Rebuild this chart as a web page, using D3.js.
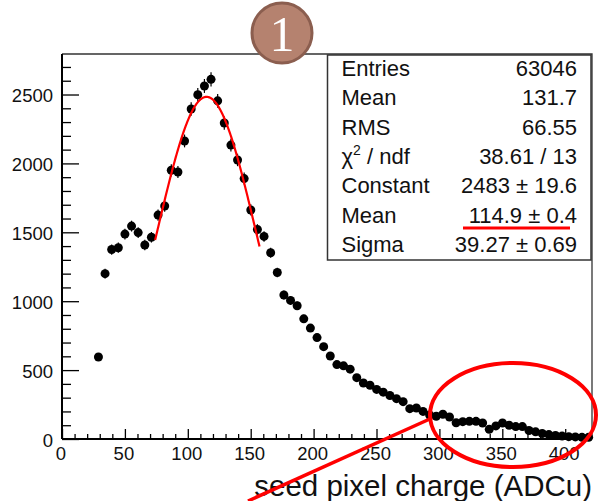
<!DOCTYPE html>
<html>
<head>
<meta charset="utf-8">
<script src="https://cdn.jsdelivr.net/npm/d3@7"></script>
<style>
  body { margin: 0; background: #fff; }
  svg { display: block; font-family: "Liberation Sans", Arial, sans-serif; }
</style>
</head>
<body>
<div id="chart"></div>
<script>
// bin centres (ADCu) and counts
const binCenters = [28.96, 34.23, 39.49, 44.76, 50.02, 55.29, 60.55, 65.82, 71.08, 76.35,
  81.62, 86.88, 92.15, 97.41, 102.68, 107.94, 113.21, 118.47, 123.74, 129.00,
  134.27, 139.54, 144.80, 150.07, 155.33, 160.60, 165.86, 171.13, 176.39, 181.66,
  186.92, 192.19, 197.45, 202.72, 207.99, 213.25, 218.52, 223.78, 229.05, 234.31,
  239.58, 244.84, 250.11, 255.37, 260.64, 265.90, 271.17, 276.44, 281.70, 286.97,
  292.23, 297.50, 302.76, 308.03, 313.29, 318.56, 323.82, 329.09, 334.35, 339.62,
  344.89, 350.15, 355.42, 360.68, 365.95, 371.21, 376.48, 381.74, 387.01, 392.27,
  397.54, 402.80, 408.07, 413.34, 418.60];
const counts = [595, 1200, 1375, 1388, 1487, 1545, 1498, 1408, 1464, 1625,
  1691, 1950, 1938, 2163, 2395, 2498, 2562, 2610, 2454, 2293,
  2133, 2025, 1890, 1662, 1520, 1470, 1352, 1208, 1045, 1006,
  967, 872, 805, 736, 670, 602, 540, 531, 507, 445,
  406, 390, 360, 340, 316, 293, 271, 220, 225, 200,
  174, 165, 180, 160, 118, 126, 128, 128, 116, 70,
  95, 116, 100, 90, 90, 62, 52, 40, 32, 26,
  21, 17, 15, 12, 12];
const binWidth = 5.266;

// gaussian fit shown in the stats box
const fitParams = { constant: 2483, mean: 114.9, sigma: 39.27 };
const fitRange = [74, 157];

const statLabels = ["Entries", "Mean", "RMS", "chi2", "Constant", "Mean", "Sigma"];
const statValues = ["63046", "131.7", "66.55", "38.61 / 13", "2483 \u00b1 19.6", "114.9 \u00b1 0.4", "39.27 \u00b1 0.69"];

const xTicks = [0, 50, 100, 150, 200, 250, 300, 350, 400];
const yTicks = [0, 500, 1000, 1500, 2000, 2500];

const width = 600;
const height = 501;
const frame = { left: 62, right: 592, top: 54, bottom: 439 };

const x = d3.scaleLinear().domain([0, 421.3]).range([frame.left, frame.right]);
const y = d3.scaleLinear().domain([0, 2794]).range([frame.bottom, frame.top]);

const svg = d3.select("#chart").append("svg")
  .attr("width", width)
  .attr("height", height);

// frame top / right
svg.append("path")
  .attr("d", `M${frame.left},${frame.top}H${frame.right}V${frame.bottom}`)
  .attr("fill", "none")
  .attr("stroke", "#333")
  .attr("stroke-width", 1.3);

// x axis, ticks pointing up into the frame
const xMinor = d3.range(0, 421, 10).filter(d => d % 50 !== 0);
svg.append("g")
  .attr("transform", `translate(0,${frame.bottom})`)
  .call(d3.axisBottom(x).tickValues(xMinor).tickSizeInner(-5).tickSizeOuter(0).tickFormat(""))
  .call(g => g.select(".domain").remove());
const xAxis = svg.append("g")
  .attr("transform", `translate(0,${frame.bottom})`)
  .call(d3.axisBottom(x).tickValues(xTicks).tickSizeInner(-10).tickSizeOuter(0).tickPadding(8)
    .tickFormat(d3.format("d")));
xAxis.select(".domain").attr("stroke-width", 2).attr("d", `M${frame.left},0H${frame.right}`);
xAxis.selectAll("text").attr("font-size", 18.5).attr("fill", "#111").attr("dx", -1.5)
  .attr("font-family", "Liberation Sans, Arial, sans-serif");

// y axis, ticks pointing right
const yMinor = d3.range(0, 2794, 100).filter(d => d % 500 !== 0);
svg.append("g")
  .attr("transform", `translate(${frame.left},0)`)
  .call(d3.axisLeft(y).tickValues(yMinor).tickSizeInner(-9).tickSizeOuter(0).tickFormat(""))
  .call(g => g.select(".domain").remove());
const yAxis = svg.append("g")
  .attr("transform", `translate(${frame.left},0)`)
  .call(d3.axisLeft(y).tickValues(yTicks).tickSizeInner(-17).tickSizeOuter(0).tickPadding(9)
    .tickFormat(d3.format("d")));
yAxis.select(".domain").attr("stroke-width", 2).attr("d", `M0,${frame.top}V${frame.bottom}`);
yAxis.selectAll("text").attr("font-size", 18.5).attr("fill", "#111").attr("dy", "0.4em")
  .attr("font-family", "Liberation Sans, Arial, sans-serif");
svg.selectAll(".tick line").attr("stroke-width", 1.3);

// histogram points with error bars
const pts = svg.append("g");
binCenters.forEach((c, i) => {
  const n = counts[i];
  const e = Math.sqrt(n);
  pts.append("line")
    .attr("x1", x(c)).attr("x2", x(c))
    .attr("y1", y(n - e)).attr("y2", y(Math.min(n + e, 2794)))
    .attr("stroke", "#000").attr("stroke-width", 1.2);
  pts.append("line")
    .attr("x1", x(c - binWidth / 2)).attr("x2", x(c + binWidth / 2))
    .attr("y1", y(n)).attr("y2", y(n))
    .attr("stroke", "#000").attr("stroke-width", 1.2);
  pts.append("circle")
    .attr("cx", x(c)).attr("cy", y(n)).attr("r", 4.5)
    .attr("fill", "#000");
});

// fit curve
const gaus = v => fitParams.constant * Math.exp(-0.5 * Math.pow((v - fitParams.mean) / fitParams.sigma, 2));
const fitLine = d3.line()
  .x(d => x(d))
  .y(d => y(gaus(d)));
svg.append("path")
  .attr("d", fitLine(d3.range(fitRange[0], fitRange[1] + 0.01, 0.5)))
  .attr("fill", "none")
  .attr("stroke", "#f00")
  .attr("stroke-width", 2.2);

// stats box
const box = svg.append("g");
box.append("rect")
  .attr("x", 327.5).attr("y", 55).attr("width", 263.5).attr("height", 205)
  .attr("fill", "#fff").attr("stroke", "#333").attr("stroke-width", 1.5);
statLabels.forEach((lab, i) => {
  const by = 76 + i * 29.3;
  const t = box.append("text")
    .attr("x", 341.5).attr("y", by)
    .attr("font-size", 22).attr("fill", "#111");
  if (lab === "chi2") {
    t.append("tspan").text("\u03c7");
    t.append("tspan").text("2").attr("font-size", 14).attr("dy", -9);
    t.append("tspan").text(" / ndf").attr("dy", 9);
  } else {
    t.text(lab);
  }
  box.append("text")
    .attr("x", 577).attr("y", by)
    .attr("text-anchor", "end")
    .attr("font-size", 22).attr("fill", "#111")
    .text(statValues[i]);
});
// red underline under the fitted mean
box.append("line")
  .attr("x1", 463).attr("x2", 570).attr("y1", 228).attr("y2", 228)
  .attr("stroke", "#f00").attr("stroke-width", 3);

// x title
svg.append("text")
  .attr("x", 592).attr("y", 496)
  .attr("text-anchor", "end")
  .attr("font-size", 29.5).attr("fill", "#111")
  .text("seed pixel charge (ADCu)");

// annotation: ellipse + pointer line
svg.append("line")
  .attr("x1", 248).attr("y1", 501).attr("x2", 432).attr("y2", 418)
  .attr("stroke", "#f00").attr("stroke-width", 3.5);
svg.append("ellipse")
  .attr("cx", 513).attr("cy", 415).attr("rx", 83).attr("ry", 52)
  .attr("fill", "none").attr("stroke", "#f00").attr("stroke-width", 4);

// numbered badge
svg.append("circle")
  .attr("cx", 282).attr("cy", 33).attr("r", 30)
  .attr("fill", "#b5826f").attr("stroke", "#8b5e4f").attr("stroke-width", 3);
svg.append("text")
  .attr("x", 282).attr("y", 51)
  .attr("text-anchor", "middle")
  .attr("font-family", "Liberation Serif, DejaVu Serif, serif")
  .attr("font-size", 50).attr("fill", "#fff")
  .text("1");
</script>
</body>
</html>
